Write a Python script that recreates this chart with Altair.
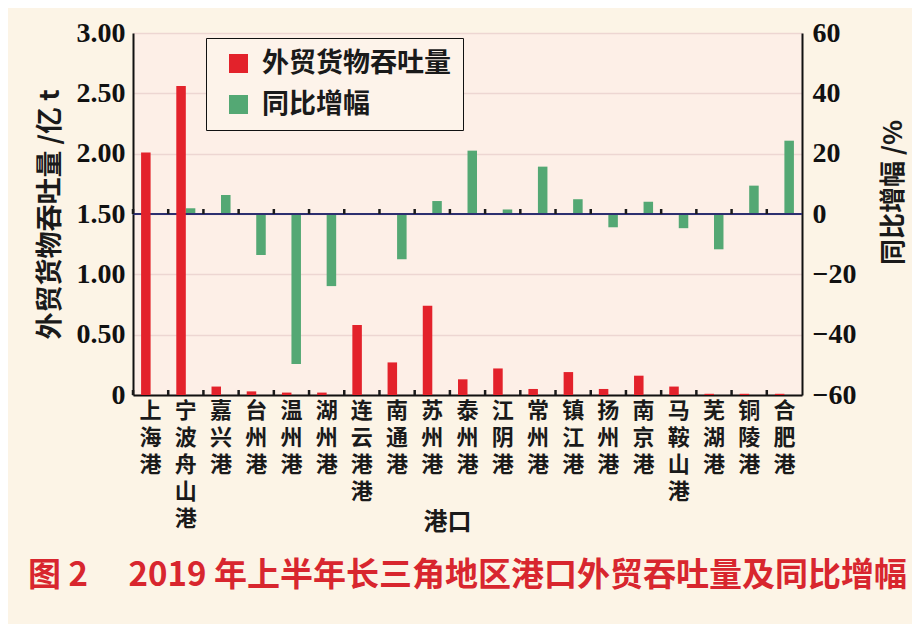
import altair as alt
import pandas as pd

ports = ["上海港", "宁波舟山港", "嘉兴港", "台州港", "温州港", "湖州港", "连云港港",
         "南通港", "苏州港", "泰州港", "江阴港", "常州港", "镇江港", "扬州港",
         "南京港", "马鞍山港", "芜湖港", "铜陵港", "合肥港"]
throughput = [2.01, 2.56, 0.07, 0.03, 0.02, 0.02, 0.58, 0.27, 0.74, 0.13,
              0.22, 0.05, 0.19, 0.05, 0.16, 0.07, 0.01, 0.01, 0.01]
growth = [0.0, 1.9, 6.3, -13.6, -49.7, -23.9, 0.0, -15.0, 4.3, 21.0,
          1.5, 15.7, 4.9, -4.4, 4.1, -4.7, -11.7, 9.4, 24.3]
series = ["外贸货物吞吐量", "同比增幅"]
left_ticks = [0, 0.5, 1.0, 1.5, 2.0, 2.5, 3.0]
right_ticks = [-60, -40, -20, 0, 20, 40, 60]

df1 = pd.DataFrame({"port": ports, "value": throughput, "series": series[0]})
df2 = pd.DataFrame({"port": ports, "value": growth, "series": series[1]})

CJK = "Noto Sans CJK SC"
SERIF = "Liberation Serif"

x_axis = alt.Axis(
    labelExpr="split(datum.label, '')", labelAngle=0, labelFont=CJK,
    labelFontSize=22, labelFontWeight="bold", labelColor="#1a1a1a",
    labelLineHeight=27, labelBaseline="top", labelPadding=5,
    ticks=False, domainColor="#111111", domainWidth=2,
    title="港口", titleFont=CJK, titleFontSize=24, titleFontWeight="bold",
    titleColor="#1a1a1a", titleBaseline="middle", titleY=127, titleX=314,
)

def xenc(band_pos=None):
    kw = dict(sort=ports, scale=alt.Scale(paddingInner=0, paddingOuter=0), axis=x_axis)
    if band_pos is not None:
        kw["bandPosition"] = band_pos
    return alt.X("port:N", **kw)

xoff = alt.XOffset("series:N", scale=alt.Scale(domain=series, paddingInner=0, paddingOuter=0.85))
color = alt.Color("series:N", scale=alt.Scale(domain=series, range=["#e3222b", "#54a874"]),
                  legend=alt.Legend(
                      title=None, orient="none", legendX=73, legendY=5,
                      symbolType="square", symbolSize=360, symbolStrokeWidth=0,
                      symbolOpacity=1, symbolOffset=7,
                      labelFont=CJK, labelFontSize=27, labelFontWeight="bold",
                      labelColor="#1a1a1a", labelOffset=10, labelLimit=400,
                      rowPadding=13, padding=12,
                      strokeColor="#111111", fillColor="#fdf3ea"))

left_scale = alt.Scale(domain=[0, 3], nice=False, zero=True)
right_scale = alt.Scale(domain=[-60, 60], nice=False)

left_axis = alt.Axis(
    values=left_ticks,
    labelExpr="datum.value == 0 ? '0' : format(datum.value, '.2f')",
    labelFont=SERIF, labelFontSize=28, labelFontWeight="bold", labelColor="#111111",
    labelPadding=8, ticks=False, domainColor="#111111", domainWidth=2,
    grid=True, gridColor="#edd6d2", gridWidth=1.5,
    title="外贸货物吞吐量 /亿 t", titleFont=CJK, titleFontSize=27,
    titleFontWeight="bold", titleColor="#1a1a1a", titlePadding=12,
)
right_axis = alt.Axis(
    values=right_ticks, orient="right", format="d",
    labelFont=SERIF, labelFontSize=28, labelFontWeight="bold", labelColor="#111111",
    labelPadding=10, ticks=False, domainColor="#111111", domainWidth=2, grid=False,
    title="同比增幅 /%", titleFont=CJK, titleFontSize=26, titleFontWeight="bold",
    titleColor="#1a1a1a", titleAngle=270, titleX=91, titleY=159,
    titleBaseline="middle", titleAlign="center",
)

TICK_PATH = "M0,0L0,-1"

green_bars = alt.Chart(df2).mark_bar().encode(
    x=xenc(), xOffset=xoff,
    y=alt.Y("value:Q", scale=right_scale, axis=right_axis),
    color=color,
)
zero_line = alt.Chart(df2).mark_rule(color="#2d2f70", strokeWidth=2).encode(
    y=alt.Y(datum=0, scale=right_scale, axis=right_axis),
)
zero_ticks = alt.Chart(df2).mark_point(shape=TICK_PATH, size=100, filled=False,
                                       stroke="#1a1a1a", strokeWidth=2.5, opacity=1).encode(
    x=xenc(0),
    y=alt.Y(datum=0, scale=right_scale, axis=right_axis),
)
green_layer = alt.layer(green_bars, zero_line, zero_ticks)

red_bars = alt.Chart(df1).mark_bar().encode(
    x=xenc(), xOffset=xoff,
    y=alt.Y("value:Q", scale=left_scale, axis=left_axis),
    color=color,
)
bottom_ticks = alt.Chart(df1).mark_point(shape=TICK_PATH, size=100, filled=False,
                                         stroke="#1a1a1a", strokeWidth=2.5, opacity=1).encode(
    x=xenc(0),
    y=alt.Y(datum=0, scale=left_scale, axis=left_axis),
)
red_layer = alt.layer(bottom_ticks, red_bars)

chart = alt.layer(green_layer, red_layer).resolve_scale(y="independent").properties(
    width=669, height=362,
    autosize=alt.AutoSizeParams(type="none"),
    padding={"left": 125, "top": 25, "right": 110, "bottom": 229},
    background="#fcf4e6",
    title=alt.Title(
        "图 2\u3000\u00a02019 年上半年长三角地区港口外贸吞吐量及同比增幅",
        orient="bottom", frame="group", offset=26, anchor="middle",
        font=CJK, fontSize=33, fontWeight="bold", color="#d8262e",
    ),
).configure_view(fill="#fdefe7", stroke="transparent")

chart.save("out.html", embed_options={"renderer": "svg", "actions": False})
